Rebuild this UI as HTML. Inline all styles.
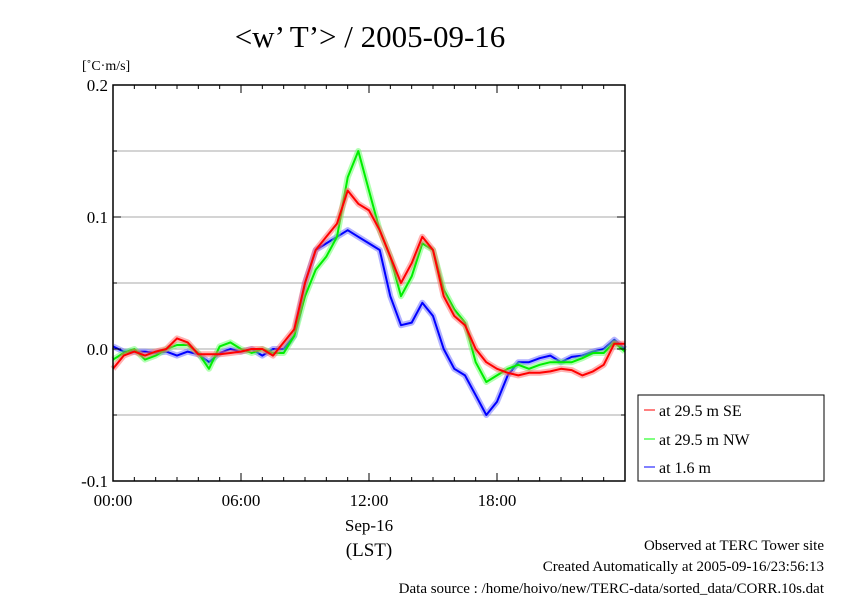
<!DOCTYPE html>
<html><head><meta charset="utf-8"><style>
body{margin:0;background:#fff;}
svg{display:block;font-family:"Liberation Serif",serif;}
</style></head><body>
<svg id="chart" width="842" height="595" viewBox="0 0 842 595" xmlns="http://www.w3.org/2000/svg">
<rect width="842" height="595" fill="#fff"/>
<text x="370" y="47" font-size="31" text-anchor="middle">&lt;w’ T’&gt; / 2005-09-16</text>
<text x="82" y="70" font-size="14">[˚C·m/s]</text>
<g id="grid"></g>
<g id="series"></g>
<rect x="113" y="85" width="512" height="396" fill="none" stroke="#000" stroke-width="1.5"/>
<g id="axes"></g>
<text x="369" y="531" font-size="17" text-anchor="middle">Sep-16</text>
<text x="369" y="556" font-size="19" text-anchor="middle">(LST)</text>
<g>
<rect x="638" y="395" width="186" height="86" fill="#fff" stroke="#000" stroke-width="1"/>
<g><line x1="644" y1="410" x2="655" y2="410" stroke="#f55" stroke-width="1.5"/><text x="659" y="416" font-size="16">at 29.5 m SE</text></g>
<g><line x1="644" y1="439" x2="655" y2="439" stroke="#5f5" stroke-width="1.5"/><text x="659" y="445" font-size="16">at 29.5 m NW</text></g>
<g><line x1="644" y1="467" x2="655" y2="467" stroke="#55f" stroke-width="1.5"/><text x="659" y="473" font-size="16">at 1.6 m</text></g>
</g>
<text x="824" y="550" font-size="15" text-anchor="end">Observed at TERC Tower site</text>
<text x="824" y="571" font-size="15" text-anchor="end">Created Automatically at 2005-09-16/23:56:13</text>
<text x="824" y="593" font-size="15" text-anchor="end">Data source : /home/hoivo/new/TERC-data/sorted_data/CORR.10s.dat</text>
</svg>
<script>
const hours=[0,0.5,1,1.5,2,2.5,3,3.5,4,4.5,5,5.5,6,6.5,7,7.5,8,8.5,9,9.5,10,10.5,11,11.5,12,12.5,13,13.5,14,14.5,15,15.5,16,16.5,17,17.5,18,18.5,19,19.5,20,20.5,21,21.5,22,22.5,23,23.5,24];
const seriesSE=[-0.015,-0.005,-0.002,-0.005,-0.002,0.0,0.008,0.005,-0.004,-0.004,-0.004,-0.003,-0.002,0.0,0.0,-0.005,0.005,0.015,0.05,0.075,0.085,0.095,0.12,0.11,0.105,0.09,0.07,0.05,0.065,0.085,0.075,0.04,0.025,0.018,0.0,-0.01,-0.015,-0.018,-0.02,-0.018,-0.018,-0.017,-0.015,-0.016,-0.02,-0.017,-0.012,0.004,0.004];
const seriesNW=[-0.008,-0.003,0.0,-0.008,-0.005,0.0,0.003,0.003,-0.003,-0.015,0.002,0.005,0.0,-0.003,0.0,-0.003,-0.003,0.01,0.04,0.06,0.07,0.085,0.13,0.15,0.12,0.09,0.07,0.04,0.055,0.08,0.075,0.045,0.03,0.02,-0.01,-0.025,-0.02,-0.015,-0.012,-0.015,-0.012,-0.01,-0.01,-0.01,-0.007,-0.003,-0.003,0.005,-0.002];
const seriesLow=[0.002,-0.002,-0.002,-0.002,-0.003,-0.002,-0.005,-0.002,-0.004,-0.01,-0.003,0.0,-0.002,0.0,-0.005,0.0,0.0,0.01,0.05,0.075,0.08,0.085,0.09,0.085,0.08,0.075,0.04,0.018,0.02,0.035,0.025,0.0,-0.015,-0.02,-0.035,-0.05,-0.04,-0.02,-0.01,-0.01,-0.007,-0.005,-0.01,-0.006,-0.005,-0.002,0.0,0.007,0.0];
const yTicks=[-0.1,0.0,0.1,0.2];
const yTickLabels=["-0.1","0.0","0.1","0.2"];
const yGrid=[-0.05,0.0,0.05,0.1,0.15];
const xTicks=[0,6,12,18];
const xTickLabels=["00:00","06:00","12:00","18:00"];

const NS="http://www.w3.org/2000/svg";
const X0=113,X1=625,Y0=481,Y1=85;
const xs=h=>X0+(h/24)*(X1-X0);
const ys=v=>Y0-((v+0.1)/0.3)*(Y0-Y1);
function mk(tag,attrs,parent){const e=document.createElementNS(NS,tag);for(const k in attrs)e.setAttribute(k,attrs[k]);parent.appendChild(e);return e;}
const grid=document.getElementById('grid');
yGrid.forEach(v=>{const l=mk('line',{x1:X0,x2:X1,y1:ys(v),y2:ys(v),stroke:'#aaa','stroke-width':1},grid);

});
const axes=document.getElementById('axes');
for(let h=0;h<=24;h++){const len=h%6===0?8:4;
[[Y0,-len],[Y1,len]].forEach(([y,d])=>{const t=mk('line',{x1:xs(h),x2:xs(h),y1:y,y2:y+d,stroke:'#000','stroke-width':1},axes);

});}
for(let i=0;i<=6;i++){const v=-0.1+i*0.05;const len=i%2===0?8:4;
[[X0,len],[X1,-len]].forEach(([x,d])=>{const t=mk('line',{x1:x,x2:x+d,y1:ys(v),y2:ys(v),stroke:'#000','stroke-width':1},axes);

});}
yTicks.forEach((v,i)=>{const t=mk('text',{x:X0-5,y:ys(v)+6,'font-size':17,'text-anchor':'end'},axes);t.textContent=yTickLabels[i];

});
xTicks.forEach((h,i)=>{const t=mk('text',{x:xs(h),y:506,'font-size':17,'text-anchor':'middle'},axes);t.textContent=xTickLabels[i];

});
const sg=document.getElementById('series');
function draw(vals,halo,core,name){const d=vals.map((v,i)=>(i?'L':'M')+xs(hours[i]).toFixed(1)+','+ys(v).toFixed(1)).join('');
const a=mk('path',{d:d,fill:'none',stroke:halo,'stroke-width':6,'stroke-opacity':0.5,'stroke-linejoin':'round'},sg);


const b=mk('path',{d:d,fill:'none',stroke:core,'stroke-width':2,'stroke-linejoin':'round'},sg);

}
draw(seriesLow,'#66f','#00f','series-1-6m');
draw(seriesNW,'#6f6','#0e0','series-29-5m-nw');
draw(seriesSE,'#f66','#f00','series-29-5m-se');
</script>
</body></html>
